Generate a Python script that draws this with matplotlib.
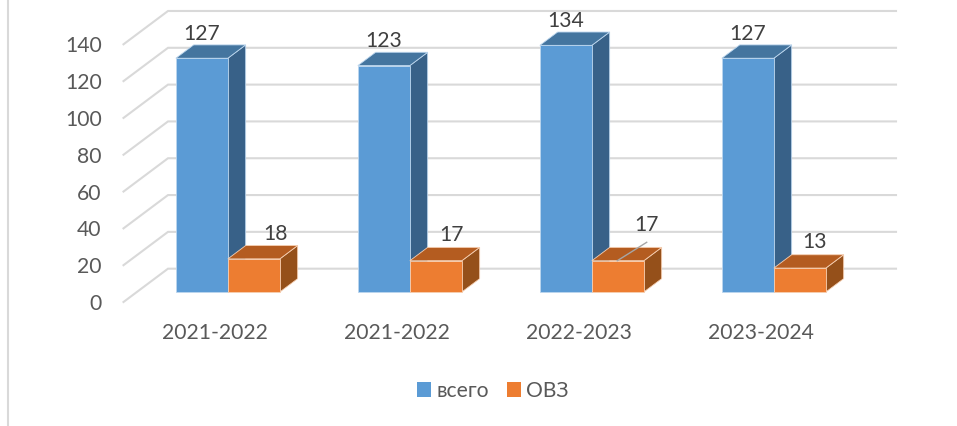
import matplotlib
matplotlib.use("Agg")
import matplotlib.pyplot as plt
from matplotlib.lines import Line2D
from matplotlib.patches import Polygon, Patch

categories = ["2021-2022", "2021-2022", "2022-2023", "2023-2024"]
total = [127, 123, 134, 127]
ovz = [18, 17, 17, 13]
series_names = ["всего", "ОВЗ"]
y_ticks = [0, 20, 40, 60, 80, 100, 120, 140]

plt.rcParams["font.family"] = ["Lato", "Open Sans", "DejaVu Sans"]
W, H = 957, 426
FS = 15.2
fig = plt.figure(figsize=(W / 100, H / 100), dpi=100, facecolor="white")

# axes = front plane of the oblique 3D box
left_px, right_px, top_px, bottom_px = 123.5, 851.5, 44.3, 302.0
ax = fig.add_axes([left_px / W, 1 - bottom_px / H,
                   (right_px - left_px) / W, (bottom_px - top_px) / H])
ax.set_xlim(-0.5, 3.5)
ax.set_ylim(0, 140)
for s in ax.spines.values():
    s.set_visible(False)
ax.patch.set_visible(False)

DX = 44.5 / 182      # category units per full depth
DY = 33.3 / 1.84     # value units per full depth
D0, D1 = 0.3, 0.7    # bar depth range
BAR_W = 52 / 182


def proj(x, v, d):
    return x + d * DX, v + d * DY


GRID = "#D9D9D9"
for v in y_ticks:
    xa, ya = proj(-0.5, v, 0)
    xb, yb = proj(-0.5, v, 1)
    xc, yc = proj(3.5, v, 1)
    ax.plot([xa, xb, xc], [ya, yb, yc], color=GRID, lw=1.5, clip_on=False,
            zorder=1, solid_joinstyle="miter")


def bar3d(x0, value, front, top, side, edge, z):
    x1 = x0 + BAR_W
    pts_side = [proj(x1, 0, D0), proj(x1, 0, D1), proj(x1, value, D1), proj(x1, value, D0)]
    pts_top = [proj(x0, value, D0), proj(x1, value, D0), proj(x1, value, D1), proj(x0, value, D1)]
    ax.add_patch(Polygon(pts_side, closed=True, fc=side, ec=edge, lw=0.6, clip_on=False, zorder=z))
    ax.add_patch(Polygon(pts_top, closed=True, fc=top, ec=edge, lw=0.6, clip_on=False, zorder=z))
    fx, fy = proj(x0, 0, D0)
    ax.bar(fx, value, width=BAR_W, bottom=fy, align="edge", color=front, edgecolor=edge,
           linewidth=0.6, clip_on=False, zorder=z + 0.1)


for i in range(len(categories)):
    bar3d(i - BAR_W, total[i], "#5B9BD5", "#44759F", "#386188", "#BCD6EE", 3 + i * 0.01)
    bar3d(i, ovz[i], "#ED7D31", "#B45C20", "#95501A", "#F6CFB2", 4 + i * 0.01)

LABEL_C = "#404040"
total_shift = [(0, 24.7)] * 4
ovz_shift = [(22, 25.3), (16, 26), (28.6, 36), (14.5, 25.7)]
for i in range(len(categories)):
    x, y = proj(i - BAR_W / 2, total[i], D0)
    ax.annotate(str(total[i]), (x, y), xytext=total_shift[i], textcoords="offset pixels",
                ha="center", va="center", fontsize=FS, color=LABEL_C, zorder=6,
                annotation_clip=False)
    x, y = proj(i + BAR_W / 2, ovz[i], D0)
    ax.annotate(str(ovz[i]), (x, y), xytext=ovz_shift[i], textcoords="offset pixels",
                ha="center", va="center", fontsize=FS, color=LABEL_C, zorder=6,
                annotation_clip=False)

# leader line of the third orange label
fig.add_artist(Line2D([617.3 / W, 646.7 / W], [1 - 260.7 / H, 1 - 242.3 / H],
                      color="#A6A6A6", lw=1.0, zorder=10))

ax.set_xticks(range(len(categories)))
ax.set_xticklabels(categories)
ax.set_yticks(y_ticks)
ax.tick_params(axis="both", length=0, labelsize=FS, labelcolor="#595959")
ax.tick_params(axis="y", pad=15.8)
ax.tick_params(axis="x", pad=15.0)

# frame line at left
fig.add_artist(Line2D([8 / W, 8 / W], [0, 1], color="#D9D9D9", lw=1.5))

handles = [Patch(fc="#5B9BD5", ec="none"), Patch(fc="#ED7D31", ec="none")]
fig.legend(handles, series_names, loc="center", bbox_to_anchor=(493 / W, 1 - 391 / H),
           ncol=2, frameon=False, fontsize=FS, labelcolor="#595959",
           handlelength=0.66, handleheight=0.66, handletextpad=0.25, columnspacing=0.85)

fig.savefig("out.png", dpi=100)
